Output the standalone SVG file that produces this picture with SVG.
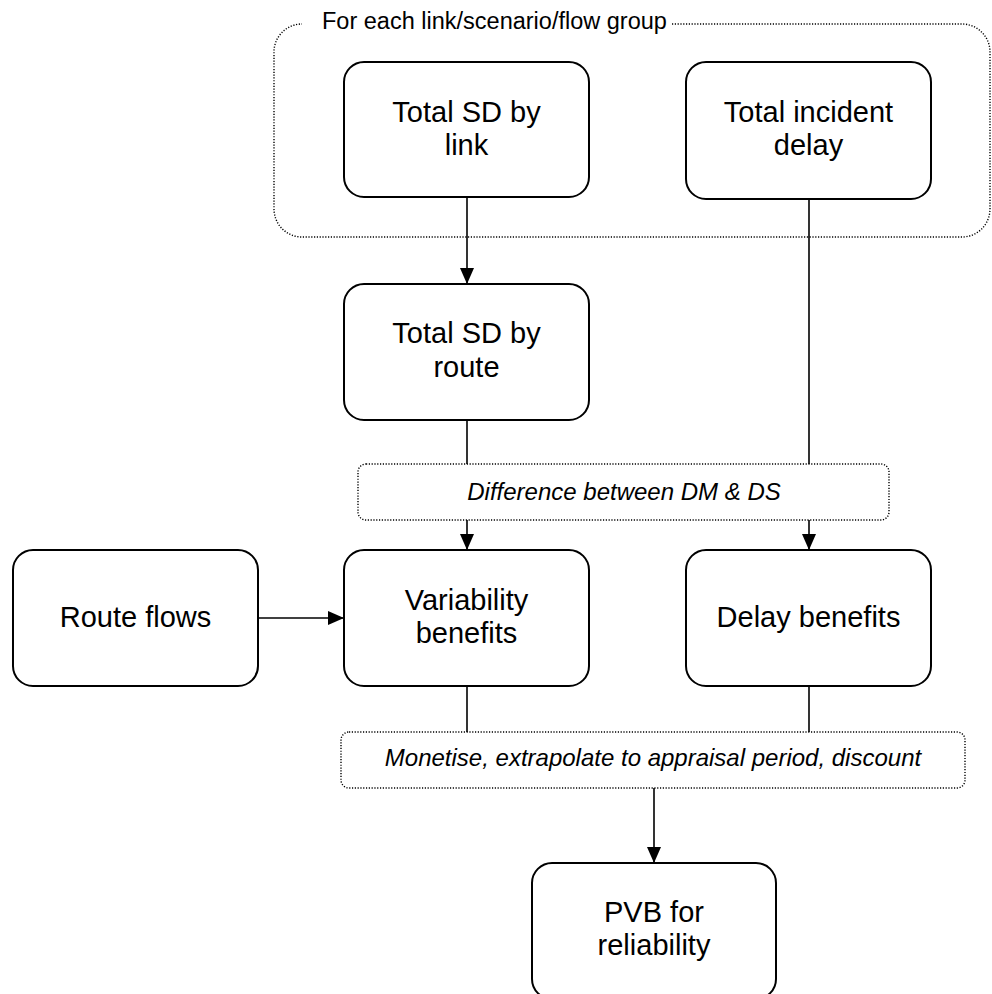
<svg xmlns="http://www.w3.org/2000/svg" width="992" height="994" viewBox="0 0 992 994">
  <style>
    .box { fill: #ffffff; stroke: #000000; stroke-width: 2; }
    .dot { fill: none; stroke: #000000; stroke-width: 1.4; stroke-dasharray: 1.2 1.6; }
    .dotbox { fill: #ffffff; stroke: #000000; stroke-width: 1.4; stroke-dasharray: 1.2 1.6; }
    .lbl { font-family: "Liberation Sans", Arial, sans-serif; font-size: 29px; fill: #000000; text-anchor: middle; }
    .it { font-family: "Liberation Sans", Arial, sans-serif; font-size: 24px; font-style: italic; fill: #000000; text-anchor: middle; }
    .grp { font-family: "Liberation Sans", Arial, sans-serif; font-size: 23.5px; fill: #000000; }
    .conn { fill: none; stroke: #000000; stroke-width: 1.6; }
  </style>
  <defs>
    <marker id="arrow" markerUnits="userSpaceOnUse" markerWidth="16" markerHeight="14" refX="16" refY="7" orient="auto">
      <path d="M0,0 L16,7 L0,14 Z" fill="#000000"/>
    </marker>
  </defs>
  <rect width="992" height="994" fill="#ffffff"/>

  <g id="group-frame">
    <path class="dot" d="M672,24 H962 A28,28 0 0 1 990,52 V209 A28,28 0 0 1 962,237 H302 A28,28 0 0 1 274,209 V52 A28,28 0 0 1 302,24"/>
    <text class="grp" x="322" y="29">For each link/scenario/flow group</text>
  </g>

  <g id="connectors">
    <line class="conn" x1="467" y1="197" x2="467" y2="284" marker-end="url(#arrow)"/>
    <line class="conn" x1="809" y1="199" x2="809" y2="464"/>
    <line class="conn" x1="467" y1="420" x2="467" y2="464"/>
    <line class="conn" x1="467" y1="520" x2="467" y2="550" marker-end="url(#arrow)"/>
    <line class="conn" x1="809" y1="520" x2="809" y2="550" marker-end="url(#arrow)"/>
    <line class="conn" x1="258" y1="618" x2="344" y2="618" marker-end="url(#arrow)"/>
    <line class="conn" x1="467" y1="686" x2="467" y2="732"/>
    <line class="conn" x1="809" y1="686" x2="809" y2="732"/>
    <line class="conn" x1="654" y1="788" x2="654" y2="863" marker-end="url(#arrow)"/>
  </g>

  <g id="total-sd-link">
    <rect class="box" x="344" y="62" width="245" height="135" rx="20" ry="20"/>
    <text class="lbl" x="466.5" y="122">Total SD by</text>
    <text class="lbl" x="466.5" y="155">link</text>
  </g>

  <g id="total-incident-delay">
    <rect class="box" x="686" y="62" width="245" height="137" rx="20" ry="20"/>
    <text class="lbl" x="808.5" y="122">Total incident</text>
    <text class="lbl" x="808.5" y="155">delay</text>
  </g>

  <g id="total-sd-route">
    <rect class="box" x="344" y="284" width="245" height="136" rx="20" ry="20"/>
    <text class="lbl" x="466.5" y="343">Total SD by</text>
    <text class="lbl" x="466.5" y="377">route</text>
  </g>

  <g id="difference">
    <rect class="dotbox" x="358" y="464" width="531" height="56" rx="8" ry="8"/>
    <text class="it" x="624" y="500">Difference between DM &amp; DS</text>
  </g>

  <g id="route-flows">
    <rect class="box" x="13" y="550" width="245" height="136" rx="20" ry="20"/>
    <text class="lbl" x="135.5" y="627">Route flows</text>
  </g>

  <g id="variability-benefits">
    <rect class="box" x="344" y="550" width="245" height="136" rx="20" ry="20"/>
    <text class="lbl" x="466.5" y="610">Variability</text>
    <text class="lbl" x="466.5" y="643">benefits</text>
  </g>

  <g id="delay-benefits">
    <rect class="box" x="686" y="550" width="245" height="136" rx="20" ry="20"/>
    <text class="lbl" x="808.5" y="627">Delay benefits</text>
  </g>

  <g id="monetise">
    <rect class="dotbox" x="341" y="732" width="624" height="56" rx="8" ry="8"/>
    <text class="it" x="653" y="766">Monetise, extrapolate to appraisal period, discount</text>
  </g>

  <g id="pvb">
    <rect class="box" x="532" y="863" width="244" height="136" rx="20" ry="20"/>
    <text class="lbl" x="654" y="922">PVB for</text>
    <text class="lbl" x="654" y="955">reliability</text>
  </g>
</svg>
